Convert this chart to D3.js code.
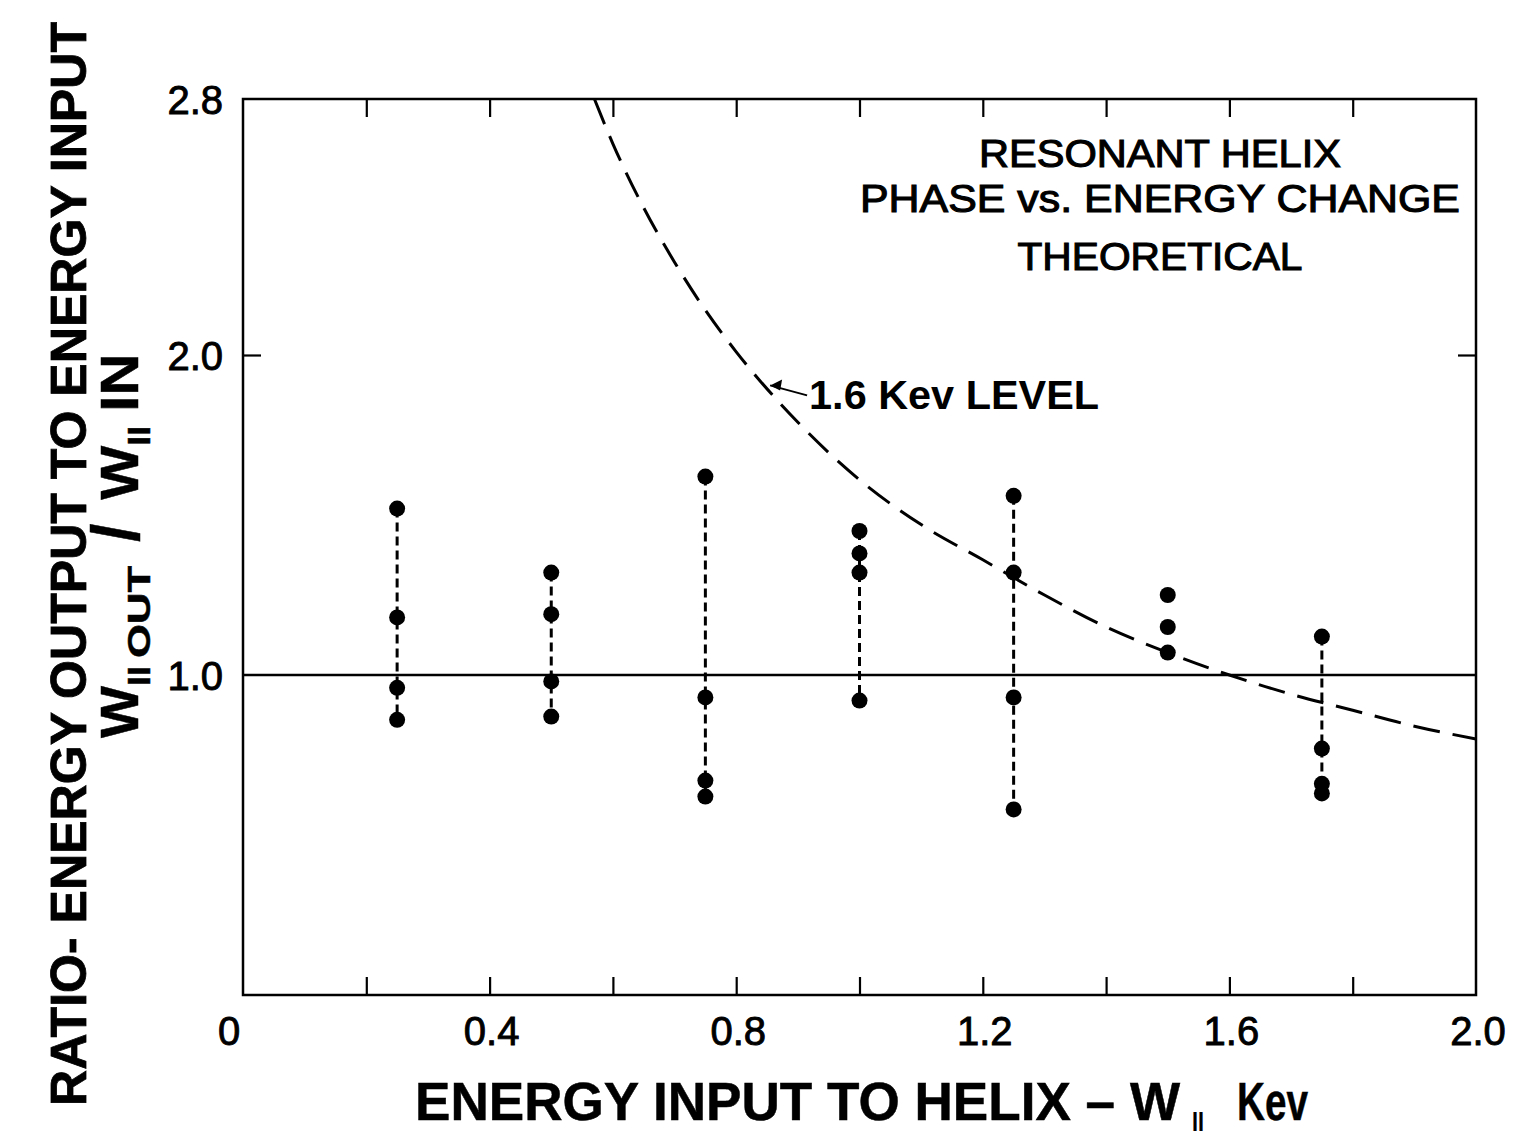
<!DOCTYPE html>
<html>
<head>
<meta charset="utf-8">
<script src="https://cdn.jsdelivr.net/npm/d3@7"></script>
<style>
  body { margin: 0; background: #fff; }
  svg text { font-family: "Liberation Sans", Arial, sans-serif; font-weight: bold; fill: #000; }
</style>
</head>
<body>
<div id="chart"></div>
<script>
var inputEnergy = [0.25, 0.5, 0.75, 1.0, 1.25, 1.5, 1.75];
var ratioValues = [
  [1.52, 1.18, 0.96, 0.86],
  [1.32, 1.19, 0.98, 0.87],
  [1.62, 0.93, 0.67, 0.62],
  [1.45, 1.38, 1.32, 0.92],
  [1.56, 1.32, 0.93, 0.58],
  [1.25, 1.15, 1.07],
  [1.12, 0.77, 0.66, 0.63]
];
var groupJoined = [true, true, true, true, true, false, true];

// theoretical 1.6 Kev level curve
var levelX = [0.57, 0.6, 0.65, 0.7, 0.75, 0.8, 0.9, 1.0, 1.1, 1.2, 1.3, 1.4, 1.5, 1.6, 1.7, 1.8, 1.9, 2.0];
var levelY = [2.80, 2.66, 2.46, 2.29, 2.14, 2.01, 1.79, 1.61, 1.47, 1.36, 1.25, 1.15, 1.07, 1.00, 0.94, 0.89, 0.84, 0.80];

var xTicks = [0.2, 0.4, 0.6, 0.8, 1.0, 1.2, 1.4, 1.6, 1.8];
var xLabels = ["0", "0.4", "0.8", "1.2", "1.6", "2.0"];
var xLabelValues = [0, 0.4, 0.8, 1.2, 1.6, 2.0];
var yLabels = ["2.8", "2.0", "1.0"];
var yLabelValues = [2.8, 2.0, 1.0];

var titleLines = ["RESONANT HELIX", "PHASE vs. ENERGY CHANGE", "THEORETICAL"];

// set the dimensions and margins of the graph
var margin = { top: 99, right: 42, bottom: 143, left: 243 },
  width = 1518 - margin.left - margin.right,
  height = 1138 - margin.top - margin.bottom;

var svg = d3.select("#chart")
  .append("svg")
  .attr("width", 1518)
  .attr("height", 1138);

var g = svg.append("g")
  .attr("transform", "translate(" + margin.left + "," + margin.top + ")");

var x = d3.scaleLinear().domain([0, 2]).range([0, width]);
var y = d3.scaleLinear().domain([0, 2.8]).range([height, 0]);

// frame
g.append("rect")
  .attr("x", 0).attr("y", 0)
  .attr("width", width).attr("height", height)
  .attr("fill", "none")
  .attr("stroke", "#000")
  .attr("stroke-width", 2.5);

// inward ticks on bottom and top
function styleAxis(sel) {
  sel.select(".domain").remove();
  sel.selectAll(".tick line").attr("stroke", "#000").attr("stroke-width", 2.2);
}
g.append("g")
  .attr("transform", "translate(0," + height + ")")
  .call(d3.axisBottom(x).tickValues(xTicks).tickSize(-18).tickFormat(""))
  .call(styleAxis);
g.append("g")
  .call(d3.axisTop(x).tickValues(xTicks).tickSize(-18).tickFormat(""))
  .call(styleAxis);
g.append("g")
  .call(d3.axisLeft(y).tickValues([2.0]).tickSize(-18).tickFormat(""))
  .call(styleAxis);
g.append("g")
  .attr("transform", "translate(" + width + ",0)")
  .call(d3.axisRight(y).tickValues([2.0]).tickSize(-18).tickFormat(""))
  .call(styleAxis);

// tick labels
g.selectAll(".xlab")
  .data(xLabelValues)
  .enter()
  .append("text")
  .attr("class", "xlab")
  .attr("x", function (d) { return d === 0 ? x(d) - 14 : x(d) + 2; })
  .attr("y", height + 50)
  .attr("text-anchor", "middle")
  .style("font-size", "40px")
  .style("font-weight", "normal")
  .style("stroke", "#000").style("stroke-width", 0.9)
  .text(function (d, i) { return xLabels[i]; });

g.selectAll(".ylab")
  .data(yLabelValues)
  .enter()
  .append("text")
  .attr("class", "ylab")
  .attr("x", -20)
  .attr("y", function (d) { return y(d) + 15; })
  .attr("text-anchor", "end")
  .style("font-size", "40px")
  .style("font-weight", "normal")
  .style("stroke", "#000").style("stroke-width", 0.9)
  .text(function (d, i) { return yLabels[i]; });

// unity line
g.append("line")
  .attr("x1", 0).attr("x2", width)
  .attr("y1", y(1)).attr("y2", y(1))
  .attr("stroke", "#000")
  .attr("stroke-width", 2.5);

// theoretical curve
var levelData = levelX.map(function (d, i) { return [d, levelY[i]]; });
g.append("path")
  .datum(levelData)
  .attr("fill", "none")
  .attr("stroke", "#000")
  .attr("stroke-width", 3)
  .attr("stroke-dasharray", "27,13")
  .attr("d", d3.line()
    .x(function (d) { return x(d[0]); })
    .y(function (d) { return y(d[1]); })
    .curve(d3.curveMonotoneX));

// measured groups: dashed joins then dots
inputEnergy.forEach(function (xv, i) {
  var vals = ratioValues[i];
  if (groupJoined[i]) {
    g.append("line")
      .attr("x1", x(xv)).attr("x2", x(xv))
      .attr("y1", y(d3.max(vals))).attr("y2", y(d3.min(vals)))
      .attr("stroke", "#000")
      .attr("stroke-width", 3)
      .attr("stroke-dasharray", "9,5");
  }
  g.selectAll(null)
    .data(vals)
    .enter()
    .append("circle")
    .attr("cx", x(xv))
    .attr("cy", function (d) { return y(d); })
    .attr("r", 8)
    .attr("fill", "#000");
});

// curve label with arrow
var labX = x(0.915), labY = y(1.88);
g.append("text")
  .attr("x", labX + 2)
  .attr("y", labY + 16)
  .attr("textLength", 290)
  .attr("lengthAdjust", "spacingAndGlyphs")
  .style("font-size", "40px")
  .text("1.6 Kev LEVEL");
var tip = [x(0.855), y(1.905)];
g.append("line")
  .attr("x1", labX).attr("y1", labY + 2)
  .attr("x2", tip[0]).attr("y2", tip[1])
  .attr("stroke", "#000").attr("stroke-width", 2);
g.append("path")
  .attr("d", "M" + tip[0] + "," + tip[1] + " l12,-6 l-2,11 z")
  .attr("fill", "#000");

// title block
var titleX = 1160 - margin.left;
var titleY = [167, 212, 270];
var titleW = [362, 600, 285];
titleLines.forEach(function (t, i) {
  g.append("text")
    .attr("x", titleX - titleW[i] / 2)
    .attr("y", titleY[i] - margin.top)
    .attr("textLength", titleW[i])
    .attr("lengthAdjust", "spacingAndGlyphs")
    .style("font-size", "39px")
    .style("font-weight", "normal")
    .style("stroke", "#000").style("stroke-width", 1.1)
    .text(t);
});

// x axis title
svg.append("text")
  .attr("x", 415).attr("y", 1120)
  .attr("textLength", 765).attr("lengthAdjust", "spacingAndGlyphs")
  .style("font-size", "54px")
  .style("stroke", "#000").style("stroke-width", 0.5)
  .text("ENERGY INPUT TO HELIX \u2013 W");
svg.append("text")
  .attr("x", 1192).attr("y", 1131)
  .attr("textLength", 12).attr("lengthAdjust", "spacingAndGlyphs")
  .style("font-size", "28px")
  .text("II");
svg.append("text")
  .attr("x", 1237).attr("y", 1120)
  .attr("textLength", 71).attr("lengthAdjust", "spacingAndGlyphs")
  .style("font-size", "54px")
  .style("stroke", "#000").style("stroke-width", 0.5)
  .text("Kev");

// y axis titles (rotated)
svg.append("text")
  .attr("transform", "translate(86,1106) rotate(-90)")
  .attr("textLength", 1084)
  .attr("lengthAdjust", "spacingAndGlyphs")
  .style("font-size", "50px")
  .style("stroke", "#000").style("stroke-width", 0.8)
  .text("RATIO- ENERGY OUTPUT TO ENERGY INPUT");

// second line: W11 OUT / W11 IN, each piece placed along the rotated baseline
var yl2 = [
  { t: "W", len: 52, gap: 0, sub: false },
  { t: "II", len: 20, gap: 0, sub: true },
  { t: "OUT", len: 92, gap: 8, sub: true },
  { t: "/", len: 0, gap: 24, sub: false },
  { t: "W", len: 54, gap: 24, sub: false },
  { t: "II", len: 20, gap: 0, sub: true },
  { t: "IN", len: 58, gap: 14, sub: false }
];
var pos = 738;
yl2.forEach(function (p) {
  pos -= p.gap;
  var t = svg.append("text")
    .attr("transform", "translate(" + (p.sub ? 150 : 138) + "," + pos + ") rotate(-90)")
    .style("font-size", p.sub ? "32px" : (p.t === "/" ? "66px" : "54px"))
    .style("stroke", "#000").style("stroke-width", 0.5)
    .text(p.t);
  if (p.len > 0) {
    t.attr("textLength", p.len).attr("lengthAdjust", "spacingAndGlyphs");
    pos -= p.len;
  } else {
    pos -= t.node().getComputedTextLength();
  }
});
</script>
</body>
</html>
